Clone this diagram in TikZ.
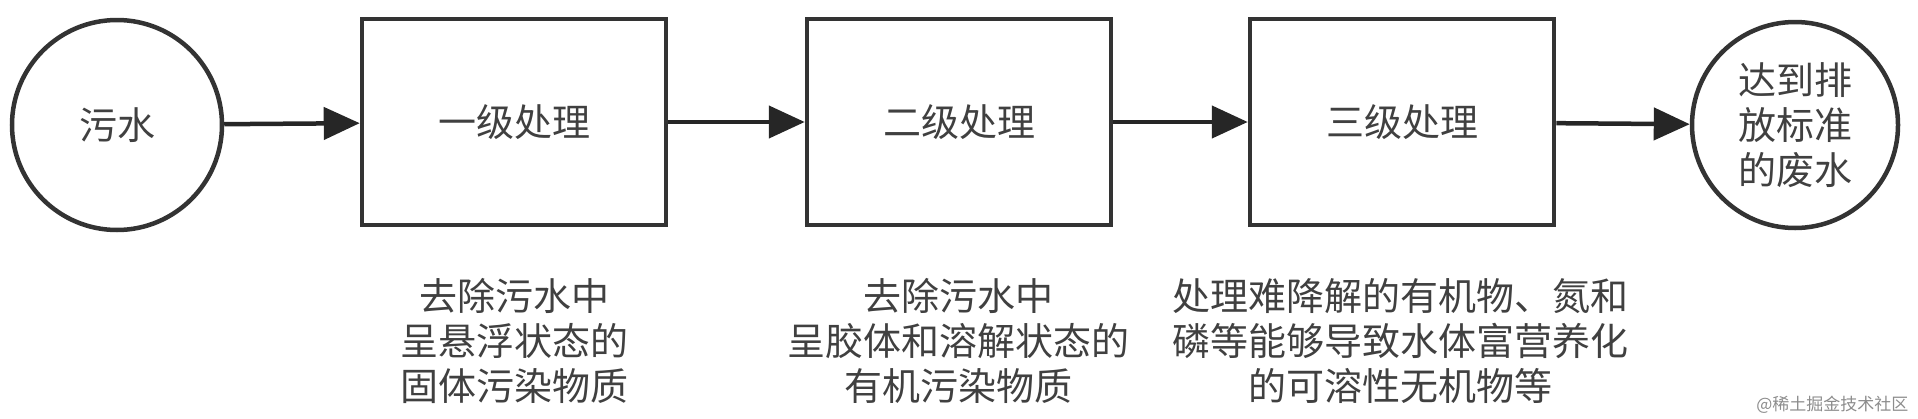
\documentclass[tikz,border=0pt]{standalone}
\usepackage{fontspec}
\setmainfont{Noto Sans CJK SC}
\usetikzlibrary{arrows.meta}
\begin{document}
\begin{tikzpicture}[x=1pt,y=-1pt,
  box/.style={draw=black!80,line width=4.5pt,minimum width=304pt,minimum height=206pt,font=\fontsize{38}{44}\selectfont,text=black!75},
  lbl/.style={align=center,font=\fontsize{38}{45}\selectfont,text=black!75},
  arr/.style={draw=black!85,line width=4.5pt,-{Triangle[length=36pt,width=32pt]}}]
\useasboundingbox (0,0) rectangle (1918,418);
\node[draw=black!80,line width=4.5pt,circle,minimum size=210pt,font=\fontsize{38}{44}\selectfont,text=black!75] (a) at (117,125) {污水};
\node[box] (b1) at (514,122) {一级处理};
\node[box] (b2) at (959,122) {二级处理};
\node[box] (b3) at (1402,122) {三级处理};
\node[draw=black!80,line width=4.5pt,circle,minimum size=206pt,inner sep=0pt,align=center,font=\fontsize{38}{45}\selectfont,text=black!75] (z) at (1795,125) {达到排\\放标准\\的废水};
\draw[arr] (a) -- (b1);
\draw[arr] (b1) -- (b2);
\draw[arr] (b2) -- (b3);
\draw[arr] (b3) -- (z);
\node[lbl] (t1) at (514,341) {去除污水中\\呈悬浮状态的\\固体污染物质};
\node[lbl] (t2) at (958,341) {去除污水中\\呈胶体和溶解状态的\\有机污染物质};
\node[lbl] (t3) at (1400,341) {处理难降解的有机物、氮和\\磷等能够导致水体富营养化\\的可溶性无机物等};
\node[font=\fontsize{17}{18}\selectfont,text=black!45,anchor=east] (w) at (1912,405) {@稀土掘金技术社区};
\end{tikzpicture}
\end{document}
